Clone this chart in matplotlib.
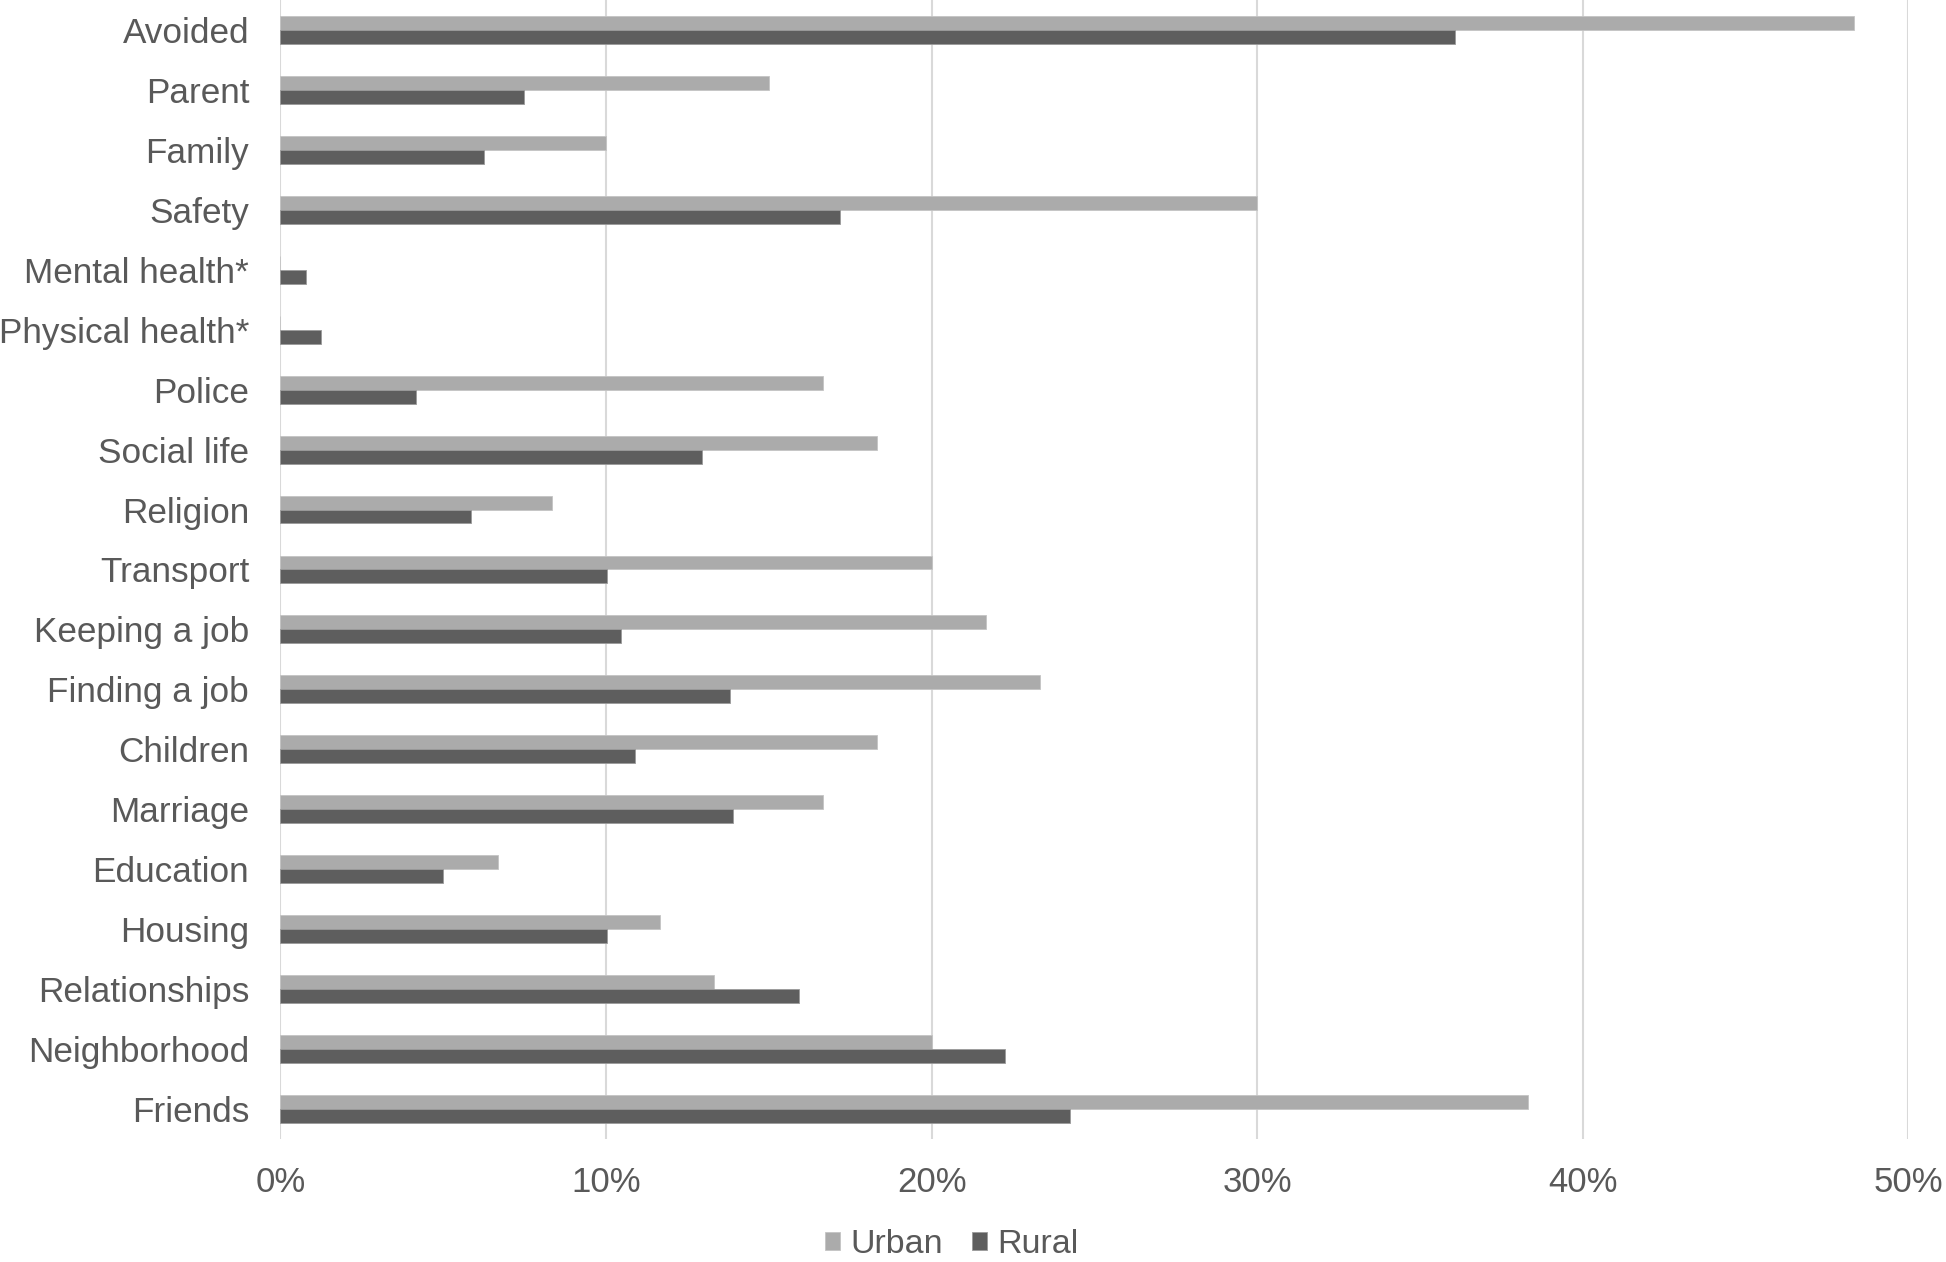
import numpy as np
import matplotlib
matplotlib.use("Agg")
import matplotlib.pyplot as plt
from matplotlib.ticker import PercentFormatter

plt.rcParams['font.family'] = ['Liberation Sans', 'DejaVu Sans']

categories = ["Avoided", "Parent", "Family", "Safety", "Mental health*",
              "Physical health*", "Police", "Social life", "Religion",
              "Transport", "Keeping a job", "Finding a job", "Children",
              "Marriage", "Education", "Housing", "Relationships",
              "Neighborhood", "Friends"]
urban = [48.33, 15.0, 10.0, 30.0, 0, 0, 16.67, 18.33, 8.33, 20.0, 21.67,
         23.33, 18.33, 16.67, 6.67, 11.67, 13.33, 20.0, 38.33]
rural = [36.07, 7.49, 6.26, 17.2, 0.8, 1.25, 4.17, 12.96, 5.85, 10.03,
         10.47, 13.81, 10.88, 13.9, 4.99, 10.03, 15.93, 22.24, 24.26]
ticks = [0, 10, 20, 30, 40, 50]

txt = '#595959'
fig = plt.figure(figsize=(19.46, 12.62), dpi=100)
ax = fig.add_axes([0.1441, 0.0975, 0.8366, 0.9025])

y = np.arange(len(categories))
h = 0.233
ax.barh(y - h / 2, urban, height=h, color='#ababab', edgecolor='#c4c4c4',
        linewidth=0.6, label='Urban', zorder=3)
ax.barh(y + h / 2, rural, height=h, color='#5e5e5e', edgecolor='#9a9a9a',
        linewidth=0.6, label='Rural', zorder=3)

ax.set_ylim(len(categories) - 0.5, -0.5)
ax.set_xlim(0, 50)
ax.set_yticks(y)
ax.set_yticklabels(categories)
ax.set_xticks(ticks)
ax.xaxis.set_major_formatter(PercentFormatter(decimals=0))
ax.tick_params(axis='y', length=0, pad=22.5, labelsize=25.3, labelcolor=txt)
ax.tick_params(axis='x', length=0, pad=19.5, labelsize=25, labelcolor=txt)
ax.grid(axis='x', color='#d9d9d9', linewidth=1.5, zorder=0)
ax.set_axisbelow(True)
for s in ax.spines.values():
    s.set_visible(False)

fig.legend(loc='center', bbox_to_anchor=(0.489, 0.0135), ncol=2, frameon=False,
           fontsize=24.5, labelcolor=txt, handlelength=0.45, handleheight=0.45,
           handletextpad=0.3, columnspacing=0.85, borderaxespad=0)

fig.savefig('out.png', dpi=100)
